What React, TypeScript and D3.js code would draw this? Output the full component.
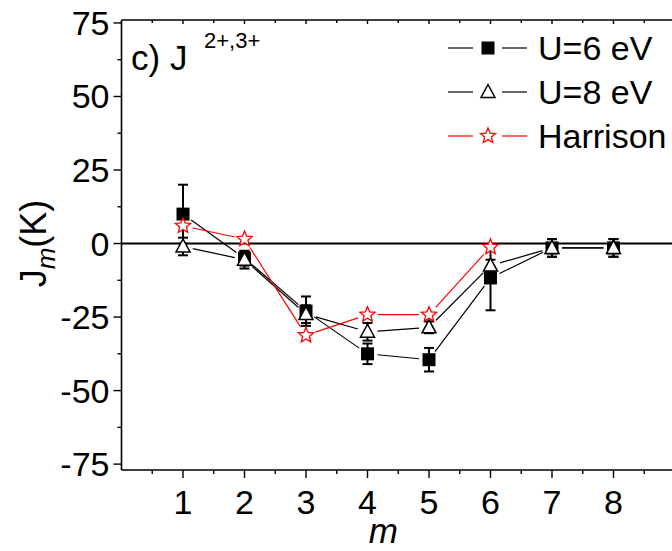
import React from "react";
import * as d3 from "d3";

const mValues = [1, 2, 3, 4, 5, 6, 7, 8];
const u6Values = [10, -5, -23, -37.5, -39.5, -11.7, -1.5, -1.5];
const u6Errors = [10, 2.5, 5, 3.5, 4, 11, 3, 3];
const u8Values = [-1, -5.5, -24, -30, -28.5, -7.5, -1.5, -1.5];
const u8Errors = [3, 3, 3, 3, 2, 2, 3, 3];
const harrisonM = [1, 2, 3, 4, 5, 6];
const harrisonValues = [6, 1.5, -31.2, -24.2, -24.2, -1.2];
const yTicks = [-75, -50, -25, 0, 25, 50, 75];
const xTicks = [1, 2, 3, 4, 5, 6, 7, 8];
const legendLabels = ["U=6 eV", "U=8 eV", "Harrison"];

const W = 672;
const H = 551;
const FONT = "'Liberation Sans', Arial, sans-serif";

const x = d3.scaleLinear().domain([0, 9]).range([121.5, 675]);
const y = d3.scaleLinear().domain([-77, 76]).range([470, 20]);

function gappedSegments(pts: [number, number][], gap: number) {
  const segs: [number, number, number, number][] = [];
  for (let i = 0; i < pts.length - 1; i++) {
    const [x1, y1] = pts[i];
    const [x2, y2] = pts[i + 1];
    const dx = x2 - x1, dy = y2 - y1;
    const len = Math.hypot(dx, dy);
    if (len <= 2 * gap) continue;
    const ux = dx / len, uy = dy / len;
    segs.push([x1 + ux * gap, y1 + uy * gap, x2 - ux * gap, y2 - uy * gap]);
  }
  return segs;
}

const starPath = (() => {
  const outer = 8, inner = 3.6;
  const pts: [number, number][] = [];
  for (let i = 0; i < 10; i++) {
    const r = i % 2 === 0 ? outer : inner;
    const a = -Math.PI / 2 + (i * Math.PI) / 5;
    pts.push([r * Math.cos(a), r * Math.sin(a)]);
  }
  return "M" + pts.map((p) => p[0].toFixed(2) + "," + p[1].toFixed(2)).join("L") + "Z";
})();
const triPath = "M0,-7.5L7,5.5L-7,5.5Z";

function Square({ cx, cy }: { cx: number; cy: number }) {
  return <rect x={cx - 6.5} y={cy - 6.5} width={13} height={13} fill="#000" />;
}
function Tri({ cx, cy }: { cx: number; cy: number }) {
  return <path d={triPath} transform={`translate(${cx},${cy})`} fill="#fff" stroke="#000" strokeWidth={1.5} />;
}
function Star({ cx, cy }: { cx: number; cy: number }) {
  return <path d={starPath} transform={`translate(${cx},${cy})`} fill="#fff" stroke="#ff0000" strokeWidth={1.3} />;
}

function ErrorBars({ vals, errs }: { vals: number[]; errs: number[] }) {
  return (
    <g stroke="#000" strokeWidth={2}>
      {vals.map((v, i) => {
        const cx = x(mValues[i]);
        const yt = y(v + errs[i]);
        const yb = y(v - errs[i]);
        return (
          <g key={i}>
            <line x1={cx} x2={cx} y1={yt} y2={yb} />
            <line x1={cx - 5} x2={cx + 5} y1={yt} y2={yt} />
            <line x1={cx - 5} x2={cx + 5} y1={yb} y2={yb} />
          </g>
        );
      })}
    </g>
  );
}

function Lines({ ms, vals, color }: { ms: number[]; vals: number[]; color: string }) {
  const pts = ms.map((m, i) => [x(m), y(vals[i])] as [number, number]);
  return (
    <g stroke={color} strokeWidth={1.2}>
      {gappedSegments(pts, 10).map((s, i) => (
        <line key={i} x1={s[0]} y1={s[1]} x2={s[2]} y2={s[3]} />
      ))}
    </g>
  );
}

export default function App() {
  const left = x(0), right = x(9), top = y(76), bottom = y(-77);
  const yMinor = d3.range(-75, 76, 12.5);
  const xMinor = d3.range(0.5, 9, 0.5);
  const legendRows = [48, 92, 136];
  return (
    <svg width={W} height={H} style={{ position: "absolute", left: 0, top: 0, background: "#fff" }} fontFamily={FONT}>
      <rect width={W} height={H} fill="#fff" />
      {/* zero line */}
      <line x1={left} x2={right} y1={y(0)} y2={y(0)} stroke="#000" strokeWidth={2} />
      {/* frame */}
      <g stroke="#000" strokeWidth={1.6} fill="none">
        <line x1={left} x2={left} y1={top} y2={bottom} />
        <line x1={left} x2={right} y1={bottom} y2={bottom} />
        <line x1={left} x2={right} y1={top} y2={top} />
        <line x1={right} x2={right} y1={top} y2={bottom} />
      </g>
      {/* y ticks */}
      <g stroke="#000" strokeWidth={1.4}>
        {yMinor.map((v, i) => (
          <line key={i} x1={left} x2={left - (v % 25 === 0 ? 8 : 4)} y1={y(v)} y2={y(v)} />
        ))}
      </g>
      <g fontSize={34} textAnchor="end" fill="#000">
        {yTicks.map((v) => (
          <text key={v} x={left - 12} y={y(v) + 12}>
            {v}
          </text>
        ))}
      </g>
      {/* x ticks */}
      <g stroke="#000" strokeWidth={1.4}>
        {xMinor.map((v, i) => (
          <g key={i}>
            <line x1={x(v)} x2={x(v)} y1={bottom} y2={bottom + (v % 1 === 0 ? 8 : 4)} />
            <line x1={x(v)} x2={x(v)} y1={top} y2={top + (v % 1 === 0 ? 4 : 3)} />
          </g>
        ))}
      </g>
      <g fontSize={34} textAnchor="middle" fill="#000">
        {xTicks.map((v) => (
          <text key={v} x={x(v)} y={514}>
            {v}
          </text>
        ))}
      </g>
      <text x={(left + 645) / 2} y={543} fontSize={35} fontStyle="italic" textAnchor="middle">
        m
      </text>
      <text transform={`translate(46,${y(0)}) rotate(-90)`} fontSize={36} textAnchor="middle">
        J<tspan fontStyle="italic" fontSize={26} dy={9}>m</tspan>
        <tspan dy={-9}>(K)</tspan>
      </text>
      <text x={131} y={70} fontSize={35}>
        c) J
      </text>
      <text x={204} y={48} fontSize={22}>
        2+,3+
      </text>

      {/* series */}
      <Lines ms={mValues} vals={u6Values} color="#000" />
      <Lines ms={mValues} vals={u8Values} color="#000" />
      <Lines ms={harrisonM} vals={harrisonValues} color="#ff0000" />
      <ErrorBars vals={u6Values} errs={u6Errors} />
      {u6Values.map((v, i) => (
        <Square key={i} cx={x(mValues[i])} cy={y(v)} />
      ))}
      <ErrorBars vals={u8Values} errs={u8Errors} />
      {u8Values.map((v, i) => (
        <Tri key={i} cx={x(mValues[i])} cy={y(v)} />
      ))}
      {harrisonValues.map((v, i) => (
        <Star key={i} cx={x(harrisonM[i])} cy={y(v)} />
      ))}

      {/* legend */}
      {legendLabels.map((lab, i) => {
        const ly = legendRows[i];
        const col = i === 2 ? "#ff0000" : "#000";
        return (
          <g key={lab}>
            <line x1={448} x2={473} y1={ly} y2={ly} stroke={col} strokeWidth={1.2} />
            <line x1={502} x2={527} y1={ly} y2={ly} stroke={col} strokeWidth={1.2} />
            {i === 0 && <Square cx={488} cy={ly} />}
            {i === 1 && <Tri cx={488} cy={ly} />}
            {i === 2 && <Star cx={488} cy={ly} />}
            <text x={538} y={ly + 12} fontSize={34}>
              {lab}
            </text>
          </g>
        );
      })}
    </svg>
  );
}
